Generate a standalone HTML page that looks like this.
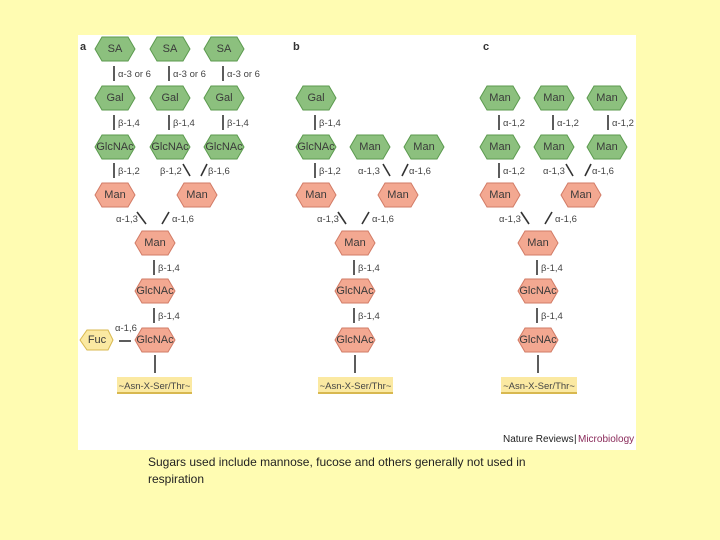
<!DOCTYPE html>
<html><head><meta charset="utf-8"><style>
body{margin:0;width:720px;height:540px;background:#fffcb2;position:relative;overflow:hidden;font-family:"Liberation Sans",sans-serif}
svg{position:absolute;left:0;top:0}
.g{fill:#8cc07e;stroke:#5b9a4e;stroke-width:1}
.p{fill:#f3a891;stroke:#d27b66;stroke-width:1}
.y{fill:#fbe9a2;stroke:#d8b850;stroke-width:1}
text{font-family:"Liberation Sans",sans-serif;font-size:10px;fill:#333}
.n{text-anchor:middle;dominant-baseline:central;font-size:11px;fill:#3a3a3a}
.l{font-size:9.5px;fill:#444}
line{stroke:#333;stroke-width:1.6}
.cap{position:absolute;left:148px;font-size:12px;color:#222}
</style></head><body>
<svg width="720" height="540">
<defs><polygon id="h" points="-20,0 -13,-12 13,-12 20,0 13,12 -13,12"/></defs>
<rect x="78" y="35" width="558" height="415" fill="#fff"/>
<text x="80" y="50" style="font-weight:bold;font-size:11px">a</text>
<text x="293" y="50" style="font-weight:bold;font-size:11px">b</text>
<text x="483" y="50" style="font-weight:bold;font-size:11px">c</text>

<!-- panel a -->
<g class="g"><use href="#h" x="115" y="49"/><use href="#h" x="170" y="49"/><use href="#h" x="224" y="49"/>
<use href="#h" x="115" y="98"/><use href="#h" x="170" y="98"/><use href="#h" x="224" y="98"/>
<use href="#h" x="115" y="147"/><use href="#h" x="170" y="147"/><use href="#h" x="224" y="147"/></g>
<g class="p"><use href="#h" x="115" y="195"/><use href="#h" x="197" y="195"/><use href="#h" x="155" y="243"/><use href="#h" x="155" y="291"/><use href="#h" x="155" y="340"/></g>
<polygon class="y" points="80,340 87,330 108,330 113,340 108,350 87,350"/>
<text class="n" x="97" y="340">Fuc</text>
<line x1="119" y1="341" x2="131" y2="341"/><text class="l" x="115" y="331">α-1,6</text>
<text class="n" x="115" y="49">SA</text><text class="n" x="170" y="49">SA</text><text class="n" x="224" y="49">SA</text>
<text class="n" x="115" y="98">Gal</text><text class="n" x="170" y="98">Gal</text><text class="n" x="224" y="98">Gal</text>
<text class="n" x="115" y="147">GlcNAc</text><text class="n" x="170" y="147">GlcNAc</text><text class="n" x="224" y="147">GlcNAc</text>
<text class="n" x="115" y="195">Man</text><text class="n" x="197" y="195">Man</text><text class="n" x="155" y="243">Man</text>
<text class="n" x="155" y="291">GlcNAc</text><text class="n" x="155" y="340">GlcNAc</text>
<line x1="114" y1="66" x2="114" y2="81"/><text class="l" x="118" y="77">α-3 or 6</text>
<line x1="169" y1="66" x2="169" y2="81"/><text class="l" x="173" y="77">α-3 or 6</text>
<line x1="223" y1="66" x2="223" y2="81"/><text class="l" x="227" y="77">α-3 or 6</text>
<line x1="114" y1="115" x2="114" y2="130"/><text class="l" x="118" y="126">β-1,4</text>
<line x1="169" y1="115" x2="169" y2="130"/><text class="l" x="173" y="126">β-1,4</text>
<line x1="223" y1="115" x2="223" y2="130"/><text class="l" x="227" y="126">β-1,4</text>
<line x1="114" y1="163" x2="114" y2="178"/><text class="l" x="118" y="174">β-1,2</text>
<text class="l" x="160" y="174">β-1,2</text><line x1="183" y1="164" x2="190" y2="176"/>
<line x1="207" y1="164" x2="201" y2="176"/><text class="l" x="208" y="174">β-1,6</text>
<text class="l" x="116" y="222">α-1,3</text><line x1="137" y1="212" x2="146" y2="224"/>
<line x1="169" y1="212" x2="162" y2="224"/><text class="l" x="172" y="222">α-1,6</text>
<line x1="154" y1="260" x2="154" y2="275"/><text class="l" x="158" y="271">β-1,4</text>
<line x1="154" y1="308" x2="154" y2="323"/><text class="l" x="158" y="319">β-1,4</text>
<line x1="155" y1="355" x2="155" y2="373"/>
<rect x="117" y="377" width="75" height="17" fill="#fbe9a2"/><rect x="117" y="392" width="75" height="2" fill="#d8b850"/>
<text class="l" x="154.5" y="389" text-anchor="middle">~Asn-X-Ser/Thr~</text>

<!-- panel b -->
<g class="g"><use href="#h" x="316" y="98"/><use href="#h" x="316" y="147"/><use href="#h" x="370" y="147"/><use href="#h" x="424" y="147"/></g>
<g class="p"><use href="#h" x="316" y="195"/><use href="#h" x="398" y="195"/><use href="#h" x="355" y="243"/><use href="#h" x="355" y="291"/><use href="#h" x="355" y="340"/></g>
<text class="n" x="316" y="98">Gal</text><text class="n" x="316" y="147">GlcNAc</text><text class="n" x="370" y="147">Man</text><text class="n" x="424" y="147">Man</text>
<text class="n" x="316" y="195">Man</text><text class="n" x="398" y="195">Man</text><text class="n" x="355" y="243">Man</text>
<text class="n" x="355" y="291">GlcNAc</text><text class="n" x="355" y="340">GlcNAc</text>
<line x1="315" y1="115" x2="315" y2="130"/><text class="l" x="319" y="126">β-1,4</text>
<line x1="315" y1="163" x2="315" y2="178"/><text class="l" x="319" y="174">β-1,2</text>
<text class="l" x="358" y="174">α-1,3</text><line x1="383" y1="164" x2="390" y2="176"/>
<line x1="408" y1="164" x2="402" y2="176"/><text class="l" x="409" y="174">α-1,6</text>
<text class="l" x="317" y="222">α-1,3</text><line x1="338" y1="212" x2="346" y2="224"/>
<line x1="369" y1="212" x2="362" y2="224"/><text class="l" x="372" y="222">α-1,6</text>
<line x1="354" y1="260" x2="354" y2="275"/><text class="l" x="358" y="271">β-1,4</text>
<line x1="354" y1="308" x2="354" y2="323"/><text class="l" x="358" y="319">β-1,4</text>
<line x1="355" y1="355" x2="355" y2="373"/>
<rect x="318" y="377" width="75" height="17" fill="#fbe9a2"/><rect x="318" y="392" width="75" height="2" fill="#d8b850"/>
<text class="l" x="355.5" y="389" text-anchor="middle">~Asn-X-Ser/Thr~</text>

<!-- panel c -->
<g class="g"><use href="#h" x="500" y="98"/><use href="#h" x="554" y="98"/><use href="#h" x="607" y="98"/>
<use href="#h" x="500" y="147"/><use href="#h" x="554" y="147"/><use href="#h" x="607" y="147"/></g>
<g class="p"><use href="#h" x="500" y="195"/><use href="#h" x="581" y="195"/><use href="#h" x="538" y="243"/><use href="#h" x="538" y="291"/><use href="#h" x="538" y="340"/></g>
<text class="n" x="500" y="98">Man</text><text class="n" x="554" y="98">Man</text><text class="n" x="607" y="98">Man</text>
<text class="n" x="500" y="147">Man</text><text class="n" x="554" y="147">Man</text><text class="n" x="607" y="147">Man</text>
<text class="n" x="500" y="195">Man</text><text class="n" x="581" y="195">Man</text><text class="n" x="538" y="243">Man</text>
<text class="n" x="538" y="291">GlcNAc</text><text class="n" x="538" y="340">GlcNAc</text>
<line x1="499" y1="115" x2="499" y2="130"/><text class="l" x="503" y="126">α-1,2</text>
<line x1="553" y1="115" x2="553" y2="130"/><text class="l" x="557" y="126">α-1,2</text>
<line x1="608" y1="115" x2="608" y2="130"/><text class="l" x="612" y="126">α-1,2</text>
<line x1="499" y1="163" x2="499" y2="178"/><text class="l" x="503" y="174">α-1,2</text>
<text class="l" x="543" y="174">α-1,3</text><line x1="566" y1="164" x2="573" y2="176"/>
<line x1="591" y1="164" x2="585" y2="176"/><text class="l" x="592" y="174">α-1,6</text>
<text class="l" x="499" y="222">α-1,3</text><line x1="521" y1="212" x2="529" y2="224"/>
<line x1="552" y1="212" x2="545" y2="224"/><text class="l" x="555" y="222">α-1,6</text>
<line x1="537" y1="260" x2="537" y2="275"/><text class="l" x="541" y="271">β-1,4</text>
<line x1="537" y1="308" x2="537" y2="323"/><text class="l" x="541" y="319">β-1,4</text>
<line x1="538" y1="355" x2="538" y2="373"/>
<rect x="501" y="377" width="76" height="17" fill="#fbe9a2"/><rect x="501" y="392" width="76" height="2" fill="#d8b850"/>
<text class="l" x="539" y="389" text-anchor="middle">~Asn-X-Ser/Thr~</text>

<text x="503" y="442" style="font-size:10px;fill:#222">Nature Reviews</text>
<text x="574" y="442" style="font-size:10px;fill:#222">|</text>
<text x="578" y="442" style="font-size:10px;fill:#8a2a5a">Microbiology</text>
</svg>
<div class="cap" style="top:455px">Sugars used include mannose, fucose and others generally not used in</div>
<div class="cap" style="top:472px">respiration</div>
</body></html>
